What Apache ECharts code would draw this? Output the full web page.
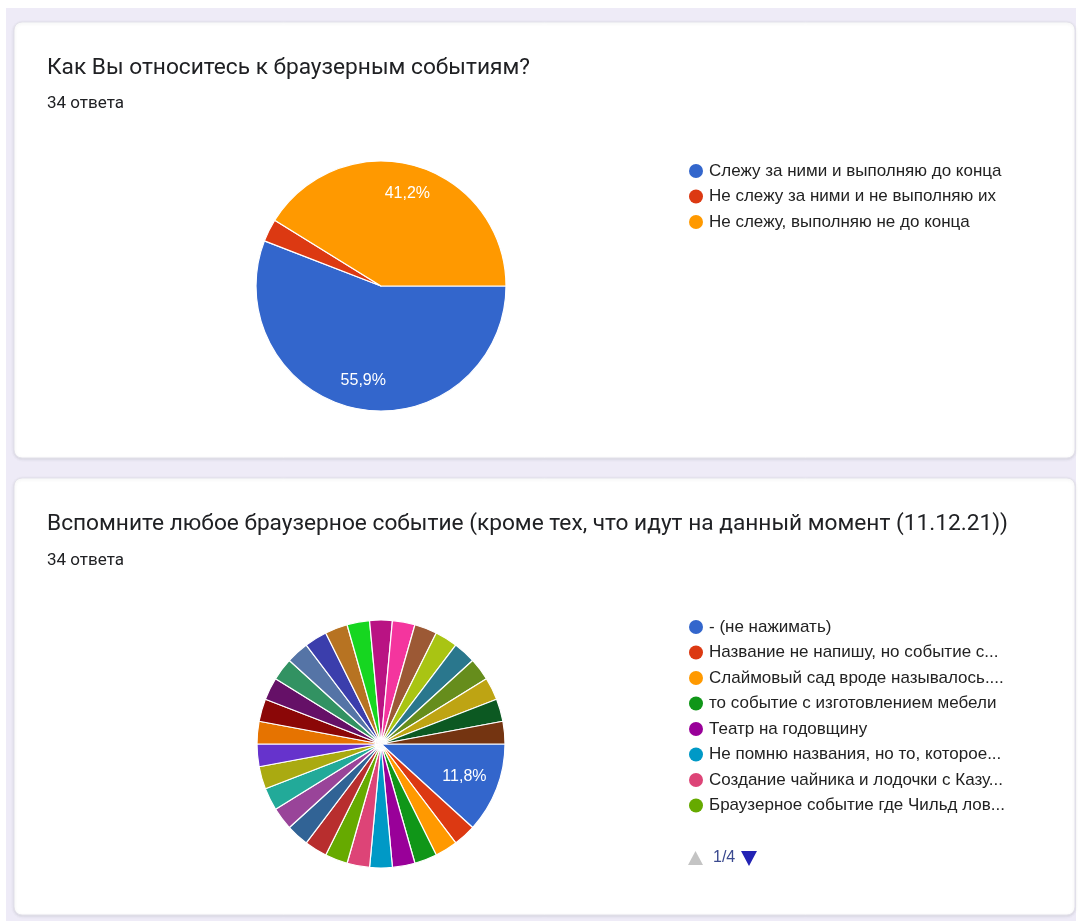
<!DOCTYPE html>
<html>
<head>
<meta charset="utf-8">
<script src="https://cdn.jsdelivr.net/npm/echarts@6/dist/echarts.min.js"></script>
<style>
  html, body { margin: 0; padding: 0; background: #ffffff; }
  #chart { width: 1078px; height: 921px; }
</style>
</head>
<body>
<div id="chart"></div>
<script>
// Question 1: attitude to browser events
const q1Title = 'Как Вы относитесь к браузерным событиям?';
const q1Count = '34 ответа';
const q1Names = [
  'Слежу за ними и выполняю до конца',
  'Не слежу за ними и не выполняю их',
  'Не слежу, выполняю не до конца'
];
const q1Values = [19, 1, 14];

// Question 2: a remembered browser event (one answer per respondent)
const q2Title = 'Вспомните любое браузерное событие (кроме тех, что идут на данный момент (11.12.21))';
const q2Count = '34 ответа';
const q2Names = [
  '- (не нажимать)',
  'Название не напишу, но событие с...',
  'Слаймовый сад вроде называлось....',
  'то событие с изготовлением мебели',
  'Театр на годовщину',
  'Не помню названия, но то, которое...',
  'Создание чайника и лодочки с Казу...',
  'Браузерное событие где Чильд лов...',
  'Ответ 9', 'Ответ 10', 'Ответ 11', 'Ответ 12', 'Ответ 13', 'Ответ 14',
  'Ответ 15', 'Ответ 16', 'Ответ 17', 'Ответ 18', 'Ответ 19', 'Ответ 20',
  'Ответ 21', 'Ответ 22', 'Ответ 23', 'Ответ 24', 'Ответ 25', 'Ответ 26',
  'Ответ 27', 'Ответ 28', 'Ответ 29', 'Ответ 30', 'Ответ 31'
];
const q2Values = [4, 1, 1, 1, 1, 1, 1, 1, 1, 1, 1, 1, 1, 1, 1, 1,
                  1, 1, 1, 1, 1, 1, 1, 1, 1, 1, 1, 1, 1, 1, 1];

// Legend page shown for question 2
const q2PageSize = 8;
const q2Page = 1;

// Slice palette (Google Charts order)
const palette = [
  '#3366cc', '#dc3912', '#ff9900', '#109618', '#990099', '#0099c6', '#dd4477', '#66aa00',
  '#b82e2e', '#316395', '#994499', '#22aa99', '#aaaa11', '#6633cc', '#e67300', '#8b0707',
  '#651067', '#329262', '#5574a6', '#3b3eac', '#b77322', '#16d620', '#b91383', '#f4359e',
  '#9c5935', '#a9c413', '#2a778d', '#668d1c', '#bea413', '#0c5922', '#743411'
];

const CHART_FONT = '"Liberation Sans", Arial, sans-serif';
const TITLE_FONT = 'Roboto, "Noto Sans", sans-serif';

function pctLabel(p) {
  return p.percent >= 5 ? p.percent.toFixed(1).replace('.', ',') + '%' : '';
}

// A pie plus a transparent ring on top of it that carries the percentage
// labels, so they sit about three quarters of the way out from the centre.
function pieWithLabels(names, values, center, r, labelInner) {
  const data = names.map((n, i) => ({
    name: n, value: values[i], itemStyle: { color: palette[i % palette.length] }
  }));
  const ring = names.map((n, i) => ({ name: n, value: values[i] }));
  return [
    {
      type: 'pie', center: center, radius: [0, r], startAngle: 0, clockwise: true,
      data: data, silent: true, animation: false,
      label: { show: false }, labelLine: { show: false },
      itemStyle: { borderColor: '#ffffff', borderWidth: 1.2 },
      emphasis: { disabled: true }
    },
    {
      type: 'pie', center: center, radius: [labelInner, r], startAngle: 0, clockwise: true,
      data: ring, silent: true, animation: false, z: 3,
      itemStyle: { color: 'rgba(0,0,0,0)', borderWidth: 0 },
      labelLine: { show: false },
      label: {
        show: true, position: 'inside', formatter: pctLabel,
        color: '#ffffff', fontSize: 16, fontFamily: CHART_FONT
      },
      emphasis: { disabled: true }
    }
  ];
}

function card(x, y, w, h) {
  return {
    type: 'rect', z: 1,
    shape: { x: x, y: y, width: w, height: h, r: 8 },
    style: {
      fill: '#ffffff', stroke: '#e3e1ea', lineWidth: 1,
      shadowBlur: 3, shadowColor: 'rgba(60,64,67,0.12)', shadowOffsetY: 1
    }
  };
}

const legendText = { fontSize: 17, lineHeight: 20, color: '#222222', fontFamily: CHART_FONT };
const q2PageCount = Math.ceil(q2Names.length / q2PageSize);
const q2PageNames = q2Names.slice((q2Page - 1) * q2PageSize, q2Page * q2PageSize);

const titleStyle = { fontFamily: TITLE_FONT, fontSize: 22.7, lineHeight: 26, fontWeight: 'normal', color: '#202124' };
const countStyle = { fontFamily: TITLE_FONT, fontSize: 17, lineHeight: 20, fontWeight: 'normal', color: '#202124' };

const option = {
  animation: false,
  graphic: [
    { type: 'rect', z: 0, shape: { x: 6, y: 8, width: 1070, height: 913 }, style: { fill: '#eeebf7' } },
    card(14, 22, 1061, 436),
    card(14, 478, 1061, 437),
    // legend pager for question 2
    { type: 'polygon', z: 5, shape: { points: [[688, 865], [703, 865], [695.5, 851]] },
      style: { fill: q2Page > 1 ? '#2323b4' : '#c4c4c4' } },
    { type: 'text', z: 5, x: 713, y: 858,
      style: { text: q2Page + '/' + q2PageCount, fill: '#3b4a8f', fontSize: 16,
               fontFamily: CHART_FONT, verticalAlign: 'middle', align: 'left' } },
    { type: 'polygon', z: 5, shape: { points: [[741, 851], [757, 851], [749, 866]] },
      style: { fill: q2Page < q2PageCount ? '#2323b4' : '#c4c4c4' } }
  ],
  title: [
    { text: q1Title, left: 47, top: 55, padding: 0, textStyle: titleStyle },
    { text: q1Count, left: 47, top: 94, padding: 0, textStyle: countStyle },
    { text: q2Title, left: 47, top: 511, padding: 0, textStyle: titleStyle },
    { text: q2Count, left: 47, top: 551, padding: 0, textStyle: countStyle }
  ],
  legend: [
    {
      data: q1Names, orient: 'vertical', left: 689, top: 161, padding: 0,
      icon: 'circle', itemWidth: 16, itemHeight: 14, itemGap: 5.5,
      itemStyle: { borderWidth: 0 }, selectedMode: false, textStyle: legendText
    },
    {
      data: q2PageNames, orient: 'vertical', left: 689, top: 617, padding: 0,
      icon: 'circle', itemWidth: 16, itemHeight: 14, itemGap: 5.5,
      itemStyle: { borderWidth: 0 }, selectedMode: false, textStyle: legendText
    }
  ],
  series: [].concat(
    pieWithLabels(q1Names, q1Values, [381, 286], 125, 62),
    pieWithLabels(q2Names, q2Values, [381, 744], 124, 49)
  )
};

const chart = echarts.init(document.getElementById('chart'), null, { renderer: 'canvas' });
chart.setOption(option);
</script>
</body>
</html>
